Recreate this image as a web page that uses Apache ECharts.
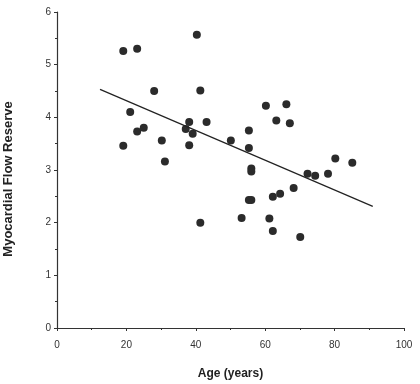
<!DOCTYPE html>
<html>
<head>
<meta charset="utf-8">
<script src="https://cdn.jsdelivr.net/npm/echarts@6/dist/echarts.min.js"></script>
<style>
html,body{margin:0;padding:0;background:#fff;}
#c{width:420px;height:384px;}
</style>
</head>
<body>
<div id="c"></div>
<script>
var ages = [19.1, 23.1, 28.0, 40.3, 41.3, 21.1, 23.1, 25.0, 19.1, 30.2, 31.1, 37.1, 38.1, 39.1, 38.1, 43.1,
            60.2, 66.1, 63.2, 67.1, 55.3, 50.1, 55.3, 56.0, 56.0, 80.2, 85.1, 72.2, 74.4, 78.1,
            68.2, 64.3, 62.2, 55.3, 56.0, 53.2, 61.2, 62.2, 70.1, 41.3];
var flowReserve = [5.26, 5.30, 4.50, 5.57, 4.51, 4.10, 3.73, 3.80, 3.46, 3.56, 3.16, 3.78, 3.91, 3.69, 3.47, 3.91,
                   4.22, 4.25, 3.94, 3.89, 3.75, 3.56, 3.42, 3.03, 2.97, 3.22, 3.14, 2.93, 2.89, 2.93,
                   2.66, 2.55, 2.49, 2.43, 2.43, 2.09, 2.08, 1.84, 1.73, 2.00];
var fitX = [12.4, 91.0];
var fitY = [4.53, 2.31];

var pts = ages.map(function(a, i){ return [a, flowReserve[i]]; });
var fit = fitX.map(function(a, i){ return [a, fitY[i]]; });

var chart = echarts.init(document.getElementById('c'), null, {renderer:'canvas'});
var axisCol = '#333';
chart.setOption({
  animation: false,
  backgroundColor: '#fff',
  grid: {left: 57, right: 16, top: 12, bottom: 56, containLabel: false, outerBoundsMode: 'none'},
  xAxis: {
    type: 'value', min: 0, max: 100, interval: 20,
    name: 'Age (years)', nameLocation: 'middle', nameGap: 40,
    nameTextStyle: {fontFamily: 'Liberation Sans', fontWeight: 'bold', fontSize: 12, color: '#222'},
    axisLine: {show: true, lineStyle: {color: axisCol, width: 1.2}},
    axisTick: {show: true, length: 3, lineStyle: {color: axisCol}},
    minorTick: {show: true, splitNumber: 2, length: 2, lineStyle: {color: axisCol}},
    axisLabel: {fontFamily: 'Liberation Sans', fontSize: 10, color: '#333', margin: 12},
    splitLine: {show: false}
  },
  yAxis: {
    type: 'value', min: 0, max: 6, interval: 1,
    name: 'Myocardial Flow Reserve', nameLocation: 'middle', nameGap: 42,
    nameTextStyle: {fontFamily: 'Liberation Sans', fontWeight: 'bold', fontSize: 13, color: '#222', padding: [0, 18, 0, 0]},
    axisLine: {show: true, lineStyle: {color: axisCol, width: 1.2}},
    axisTick: {show: true, length: 3, lineStyle: {color: axisCol}},
    minorTick: {show: true, splitNumber: 2, length: 2, lineStyle: {color: axisCol}},
    axisLabel: {fontFamily: 'Liberation Sans', fontSize: 10, color: '#333', margin: 6},
    splitLine: {show: false}
  },
  series: [
    {type: 'scatter', data: pts, symbolSize: 8, itemStyle: {color: '#2b2b2b', opacity: 1}},
    {type: 'line', data: fit, showSymbol: false, symbol: 'none', lineStyle: {color: '#222', width: 1.2}}
  ]
});
</script>
</body>
</html>
